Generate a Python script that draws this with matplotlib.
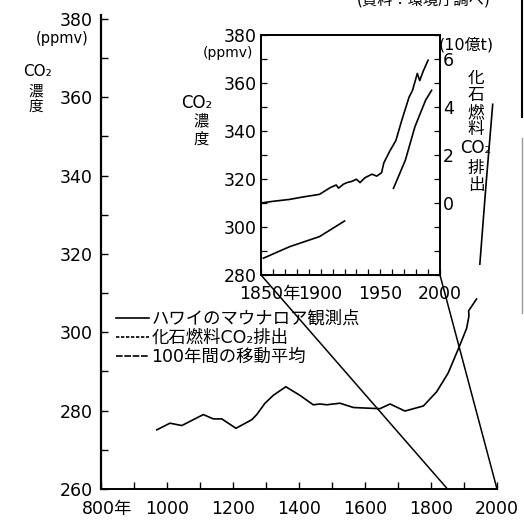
import matplotlib
matplotlib.use("Agg")
import matplotlib.pyplot as plt
from matplotlib.patches import ConnectionPatch
from matplotlib.lines import Line2D
from matplotlib.ticker import MultipleLocator

plt.rcParams['font.family'] = ['DejaVu Sans', 'Noto Sans CJK JP']

# 100年間の移動平均 (main chart)
avg_years = [969, 1009, 1045, 1110, 1140, 1166, 1209, 1257, 1272, 1297, 1322, 1360,
             1403, 1443, 1464, 1484, 1524, 1565, 1645, 1676, 1721, 1777, 1817, 1852,
             1883, 1908, 1915, 1914, 1938]
avg_co2 = [275.1, 276.8, 276.2, 279.0, 277.9, 277.9, 275.5, 277.7, 279.0, 281.9, 283.9, 286.1,
           283.9, 281.5, 281.7, 281.5, 281.9, 280.8, 280.5, 281.7, 279.9, 281.2, 284.8, 289.6,
           295.8, 301.0, 304.2, 305.5, 308.5]

# ハワイのマウナロア観測点 (main chart)
ml_main_years = [1948, 1967, 1987]
ml_main_co2 = [317.4, 338.0, 358.2]

# inset: 1850-2000
ml_years = [1961, 1971, 1979, 1988, 1993]
ml_co2 = [316.1, 327.9, 341.8, 352.9, 357.0]

avg_in_years = [1852, 1874, 1899, 1920]
avg_in_co2 = [287.0, 291.8, 296.0, 302.5]

# 化石燃料CO2排出 (10億t)
fuel_years = [1850, 1860, 1874, 1885, 1899, 1908, 1913, 1915, 1919, 1922, 1926, 1930,
              1933, 1937, 1943, 1947, 1951, 1953, 1958, 1963, 1968, 1974, 1977, 1981,
              1983, 1986, 1990]
fuel_emis = [0.0, 0.07, 0.15, 0.25, 0.36, 0.64, 0.75, 0.62, 0.78, 0.85, 0.9, 0.99,
             0.85, 1.05, 1.2, 1.12, 1.26, 1.68, 2.17, 2.6, 3.45, 4.4, 4.7, 5.4,
             5.1, 5.5, 5.95]

main_xticks = [800, 1000, 1200, 1400, 1600, 1800, 2000]
main_yticks = [260, 280, 300, 320, 340, 360, 380]
inset_xticks = [1850, 1900, 1950, 2000]
inset_yticks = [280, 300, 320, 340, 360, 380]
inset_rticks = [0, 2, 4, 6]

legend_labels = ["ハワイのマウナロア観測点", "化石燃料CO₂排出", "100年間の移動平均"]

W, H = 524, 520
fig = plt.figure(figsize=(W / 100, H / 100), dpi=100)

lw = 1.2
fs = 12.5

# ---- main chart
ax = fig.add_axes([101 / W, 1 - 489 / H, 396 / W, 474 / H])
ax.plot(avg_years, avg_co2, color='black', lw=lw)
ax.plot(ml_main_years, ml_main_co2, color='black', lw=lw)
ax.set_xlim(800, 2000)
ax.set_ylim(260, 381)
for s in ['top', 'right']:
    ax.spines[s].set_visible(False)
ax.spines['left'].set_linewidth(1.6)
ax.spines['bottom'].set_linewidth(1.4)
ax.set_xticks(main_xticks, [''] + [str(t) for t in main_xticks[1:]])
ax.set_yticks(main_yticks, [str(t) for t in main_yticks])
ax.xaxis.set_minor_locator(MultipleLocator(100))
ax.yaxis.set_minor_locator(MultipleLocator(10))
ax.tick_params(which='both', direction='in', width=1.0, length=5)
ax.tick_params(axis='x', pad=8, labelsize=fs)
ax.tick_params(axis='y', pad=6, labelsize=fs)
ax.annotate('800年', xy=(800, 0), xycoords=ax.get_xaxis_transform(),
            xytext=(-14, -8), textcoords='offset points', ha='left', va='top', fontsize=fs)

# ---- inset
ins = fig.add_axes([261 / W, 1 - 275 / H, 179 / W, 240 / H])
ins.plot(ml_years, ml_co2, color='black', lw=lw)
ins.plot(avg_in_years, avg_in_co2, color='black', lw=lw)
ins.set_xlim(1850, 2000)
ins.set_ylim(280, 380)
ins.set_xticks(inset_xticks, [''] + [str(t) for t in inset_xticks[1:]])
ins.set_yticks(inset_yticks, [str(t) for t in inset_yticks])
ins.xaxis.set_minor_locator(MultipleLocator(10))
ins.yaxis.set_minor_locator(MultipleLocator(10))
ins.tick_params(which='both', direction='in', width=0.9, length=4)
ins.tick_params(axis='x', pad=7, labelsize=fs)
ins.tick_params(axis='y', pad=3, labelsize=fs)
for s in ins.spines.values():
    s.set_linewidth(1.3)
ins.annotate('1850年', xy=(1850, 0), xycoords=ins.get_xaxis_transform(),
             xytext=(-16, -7), textcoords='offset points', ha='left', va='top', fontsize=fs)

rax = ins.twinx()
rax.plot(fuel_years, fuel_emis, color='black', lw=lw)
rax.set_ylim(-3, 7)
rax.set_yticks(inset_rticks, [str(t) for t in inset_rticks])
rax.yaxis.set_minor_locator(MultipleLocator(1))
rax.tick_params(which='both', direction='in', width=0.9, length=4, pad=2, labelsize=fs)
for s in rax.spines.values():
    s.set_linewidth(1.3)

# connectors from inset to main chart
for yr in [1850, 2000]:
    con = ConnectionPatch(xyA=(yr, 280), coordsA=ins.transData,
                          xyB=(yr, 260), coordsB=ax.transData,
                          color='black', lw=1.1)
    fig.add_artist(con)

# legend
handles = [Line2D([], [], color='black', lw=1.2, ls='-'),
           Line2D([], [], color='black', lw=1.2, ls=(0, (2, 1))),
           Line2D([], [], color='black', lw=1.2, ls=(0, (4, 1)))]
ax.legend(handles, legend_labels, loc='upper left', bbox_to_anchor=(116 / W, 1 - 310 / H),
          bbox_transform=fig.transFigure, frameon=False, fontsize=12.5, borderpad=0,
          borderaxespad=0, handlelength=1.9, handletextpad=0.15, labelspacing=0.05)

# axis titles
def ftext(x, y, s, size, **kw):
    fig.text(x / W, 1 - y / H, s, fontsize=size, ha='center', va='center', **kw)

ftext(62, 39, '(ppmv)', 10.5)
ftext(37, 71, 'CO₂', 11)
ftext(36, 91, '濃', 10.5)
ftext(36, 106, '度', 10.5)

ftext(228, 53, '(ppmv)', 10)
ftext(197, 103, 'CO₂', 12)
ftext(201, 121, '濃', 11)
ftext(201, 139, '度', 11)

ftext(466, 45, '(10億t)', 11.5)
for ch, yy in zip(['化', '石', '燃', '料', 'CO₂', '排', '出'], [78, 95, 112, 129, 148, 168, 185]):
    ftext(476, yy, ch, 12)

# source note (cut off at the top of the page)
fig.text(357 / W, 1.0, '(資料：環境庁調べ)', fontsize=11, ha='left', va='center')

# page edge
fig.add_artist(Line2D([522 / W, 522 / W], [1.0, 1 - 117 / H], color='black', lw=1.5))
fig.add_artist(Line2D([522 / W, 522 / W], [1 - 138 / H, 1 - 313 / H], color='#999999', lw=1.0))

fig.savefig('out.png', dpi=100)
